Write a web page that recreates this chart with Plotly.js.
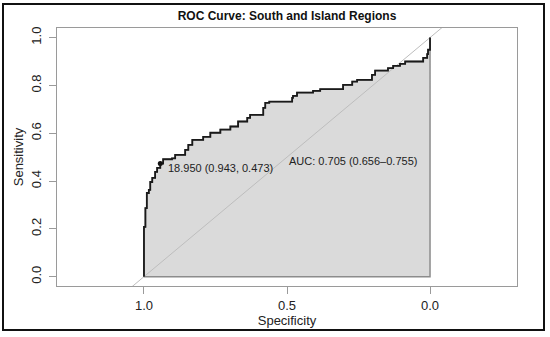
<!DOCTYPE html>
<html>
<head>
<meta charset="utf-8">
<script src="https://cdn.plot.ly/plotly-3.0.1.min.js"></script>
<style>
  html, body { margin: 0; padding: 0; background: #ffffff; }
  #wrap { position: relative; width: 550px; height: 337px; }
  #chart { width: 550px; height: 337px; }
  #frame { position: absolute; left: 2px; top: 3px; width: 539px; height: 324px;
           border: 2px solid #111; pointer-events: none; }
</style>
</head>
<body>
<div id="wrap">
  <div id="chart"></div>
  <div id="frame"></div>
</div>
<script>
// ROC curve vertices (specificity, sensitivity)
const specificity = [1.000,1.000,0.995,0.995,0.990,0.990,0.983,0.978,0.971,0.961,0.954,0.943,
  0.933,0.902,0.891,0.856,0.845,0.831,0.803,0.793,0.768,0.733,0.698,0.671,
  0.639,0.629,0.587,0.583,0.576,0.562,0.489,0.482,0.479,0.465,0.409,0.409,
  0.384,0.325,0.304,0.272,0.255,0.217,0.203,0.192,0.157,0.147,0.129,0.105,
  0.087,0.024,0.024,0.010,0.007,0.000,0.000];
const sensitivity = [0.000,0.208,0.208,0.287,0.287,0.350,0.363,0.396,0.413,0.438,0.455,0.473,
  0.491,0.495,0.509,0.530,0.551,0.572,0.572,0.585,0.602,0.615,0.628,0.649,
  0.664,0.677,0.677,0.706,0.727,0.732,0.732,0.748,0.756,0.770,0.770,0.777,
  0.784,0.784,0.802,0.816,0.823,0.823,0.844,0.862,0.862,0.872,0.882,0.890,
  0.900,0.900,0.915,0.931,0.949,0.949,1.000];

// best threshold point
const bestThreshold = 18.950;
const bestSpec = [0.943];
const bestSens = [0.473];

// AUC and confidence interval
const aucValue = 0.705;
const aucLow = 0.656;
const aucHigh = 0.755;

// chance (identity) reference line
const diagSpec = [1.5, -0.5];
const diagSens = [-0.5, 1.5];

const xTickVals = [1, 0.5, 0];
const xTickText = ["1.0", "0.5", "0.0"];
const yTickVals = [0, 0.2, 0.4, 0.6, 0.8, 1.0];
const yTickText = ["0.0", "0.2", "0.4", "0.6", "0.8", "1.0"];

const FONT = "Liberation Sans, Arial, sans-serif";

const polygon = {
  x: specificity.concat([0, 1]),
  y: sensitivity.concat([0, 0]),
  type: "scatter", mode: "lines",
  line: { shape: "hv", color: "#8c8c8c", width: 1.5 },
  fill: "toself", fillcolor: "#dadada",
  hoverinfo: "skip", showlegend: false
};

const diag = {
  x: diagSpec, y: diagSens,
  type: "scatter", mode: "lines",
  line: { color: "#bdbdbd", width: 1 },
  hoverinfo: "skip", showlegend: false
};

const curve = {
  x: specificity, y: sensitivity,
  type: "scatter", mode: "lines",
  line: { shape: "hv", color: "#1a1a1a", width: 1.8 },
  showlegend: false
};

const best = {
  x: bestSpec, y: bestSens,
  type: "scatter", mode: "markers",
  marker: { color: "#111", size: 5 },
  showlegend: false
};

const layout = {
  width: 550, height: 337,
  margin: { l: 57, r: 33, t: 28, b: 51, pad: 0 },
  paper_bgcolor: "#ffffff",
  plot_bgcolor: "#ffffff",
  font: { family: FONT, size: 13, color: "#222" },
  title: {
    text: "<b>ROC Curve: South and Island Regions</b>",
    font: { family: FONT, size: 12, color: "#111" },
    x: 0.5, xref: "paper", xanchor: "center",
    y: 1 - 16 / 337, yref: "container", yanchor: "middle"
  },
  xaxis: {
    range: [1.304, -0.304],
    tickvals: xTickVals, ticktext: xTickText,
    showgrid: false, zeroline: false,
    showline: true, mirror: true, linecolor: "#9a9a9a", linewidth: 1,
    ticks: "outside", ticklen: 7, tickcolor: "#9a9a9a", tickwidth: 1,
    tickfont: { family: FONT, size: 13, color: "#222" },
    title: { text: "Specificity", font: { family: FONT, size: 13, color: "#222" }, standoff: 2 },
    automargin: false
  },
  yaxis: {
    range: [-0.039, 1.04],
    tickvals: yTickVals, ticktext: yTickText,
    tickangle: -90,
    showgrid: false, zeroline: false,
    showline: true, mirror: true, linecolor: "#9a9a9a", linewidth: 1,
    ticks: "outside", ticklen: 7, tickcolor: "#9a9a9a", tickwidth: 1,
    ticklabelstandoff: 3,
    tickfont: { family: FONT, size: 13, color: "#222" },
    title: { text: "Sensitivity", font: { family: FONT, size: 13, color: "#222" }, standoff: 2 },
    automargin: false
  },
  annotations: [
    {
      x: 0.922, y: 0.454, xref: "x", yref: "y",
      text: bestThreshold.toFixed(3) + " (" + bestSpec[0].toFixed(3) + ", " + bestSens[0].toFixed(3) + ")",
      showarrow: false, xanchor: "left", yanchor: "middle",
      font: { family: FONT, size: 11, color: "#222" }
    },
    {
      x: 0.5, y: 0.484, xref: "x", yref: "y",
      text: "AUC: " + aucValue.toFixed(3) + " (" + aucLow.toFixed(3) + "\u2013" + aucHigh.toFixed(3) + ")",
      showarrow: false, xanchor: "left", yanchor: "middle",
      font: { family: FONT, size: 11, color: "#222" }
    }
  ]
};

Plotly.newPlot("chart", [polygon, diag, curve, best], layout, { displayModeBar: false, staticPlot: true });
</script>
</body>
</html>
